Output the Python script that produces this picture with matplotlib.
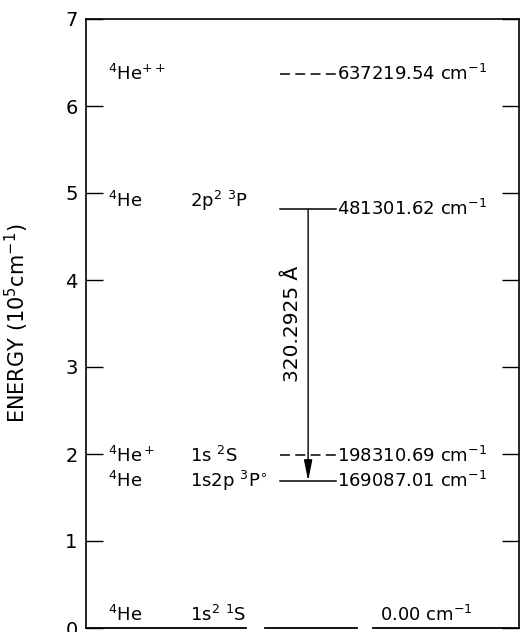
import matplotlib
matplotlib.use("Agg")
import matplotlib.pyplot as plt

# energy levels of helium (cm^-1)
level_cm = [637219.54, 481301.62, 198310.69, 169087.01, 0.00]
species = ["$^4$He$^{++}$", "$^4$He", "$^4$He$^+$", "$^4$He", "$^4$He"]
states = ["", "2p$^2$ $^3$P", "1s $^2$S", "1s2p $^3$P$^{\\circ}$", "1s$^2$ $^1$S"]
dashed = [True, False, True, False, False]
value_labels = ["637219.54", "481301.62", "198310.69", "169087.01", "0.00"]

# transition 2p^2 3P -> 1s2p 3Po
trans_from = 481301.62
trans_to = 169087.01
trans_label = "320.2925 Å"

yticks = [0, 1, 2, 3, 4, 5, 6, 7]

plt.rcParams["font.family"] = "DejaVu Sans"
plt.rcParams["mathtext.fontset"] = "dejavusans"

fig = plt.figure(figsize=(5.2, 6.32), dpi=100)
ax = fig.add_axes([86/520, 4/632, 433/520, 609/632])
ax.set_xlim(0, 1)
ax.set_ylim(0, 7)

FS = 13
for E, sp, st, d, lab in zip(level_cm, species, states, dashed, value_labels):
    y = E / 1e5
    if y == 0:
        # ground level drawn as broken segments on the bottom edge
        for x0, x1 in [(0.0, 0.37), (0.413, 0.626), (0.663, 1.0)]:
            ax.plot([x0, x1], [0, 0], color="black", lw=1.3, clip_on=False)
        ax.text(0.051, 0.04, sp, fontsize=FS, va="bottom", ha="left")
        ax.text(0.24, 0.04, st, fontsize=FS, va="bottom", ha="left")
        ax.text(0.679, 0.04, lab + " cm$^{-1}$", fontsize=FS, va="bottom", ha="left")
        continue
    ls = (0, (6.5, 3.5)) if d else "-"
    ax.plot([0.448, 0.577], [y, y], color="black", lw=1.1, linestyle=ls)
    dy = 0.1 if st.startswith("2p") else 0.0
    ax.text(0.051, y + dy, sp, fontsize=FS, va="center", ha="left")
    if st:
        ax.text(0.24, y + dy, st, fontsize=FS, va="center", ha="left")
    ax.text(0.58, y, lab + " cm$^{-1}$", fontsize=FS, va="center", ha="left")

# transition arrow
ax.annotate("", xy=(0.513, trans_to / 1e5), xytext=(0.513, trans_from / 1e5),
            arrowprops=dict(arrowstyle="-|>,head_width=0.18,head_length=0.9",
                            color="black", lw=1.0, shrinkA=0, shrinkB=0,
                            mutation_scale=14))
ax.text(0.478, 3.5, trans_label, rotation=90, fontsize=14.5,
        ha="center", va="center")

ax.set_yticks(yticks)
ax.set_yticklabels([str(t) for t in yticks], fontsize=14)
ax.set_xticks([])
ax.tick_params(axis="y", direction="in", length=12, width=1.0,
               right=True, labelright=False, pad=6)
ax.spines["bottom"].set_visible(False)
for s in ["left", "top", "right"]:
    ax.spines[s].set_linewidth(1.2)

ax.set_ylabel("ENERGY (10$^5$cm$^{-1}$)", fontsize=15)
ax.yaxis.set_label_coords(-0.128, 0.5)

fig.savefig("out.png", dpi=100)
